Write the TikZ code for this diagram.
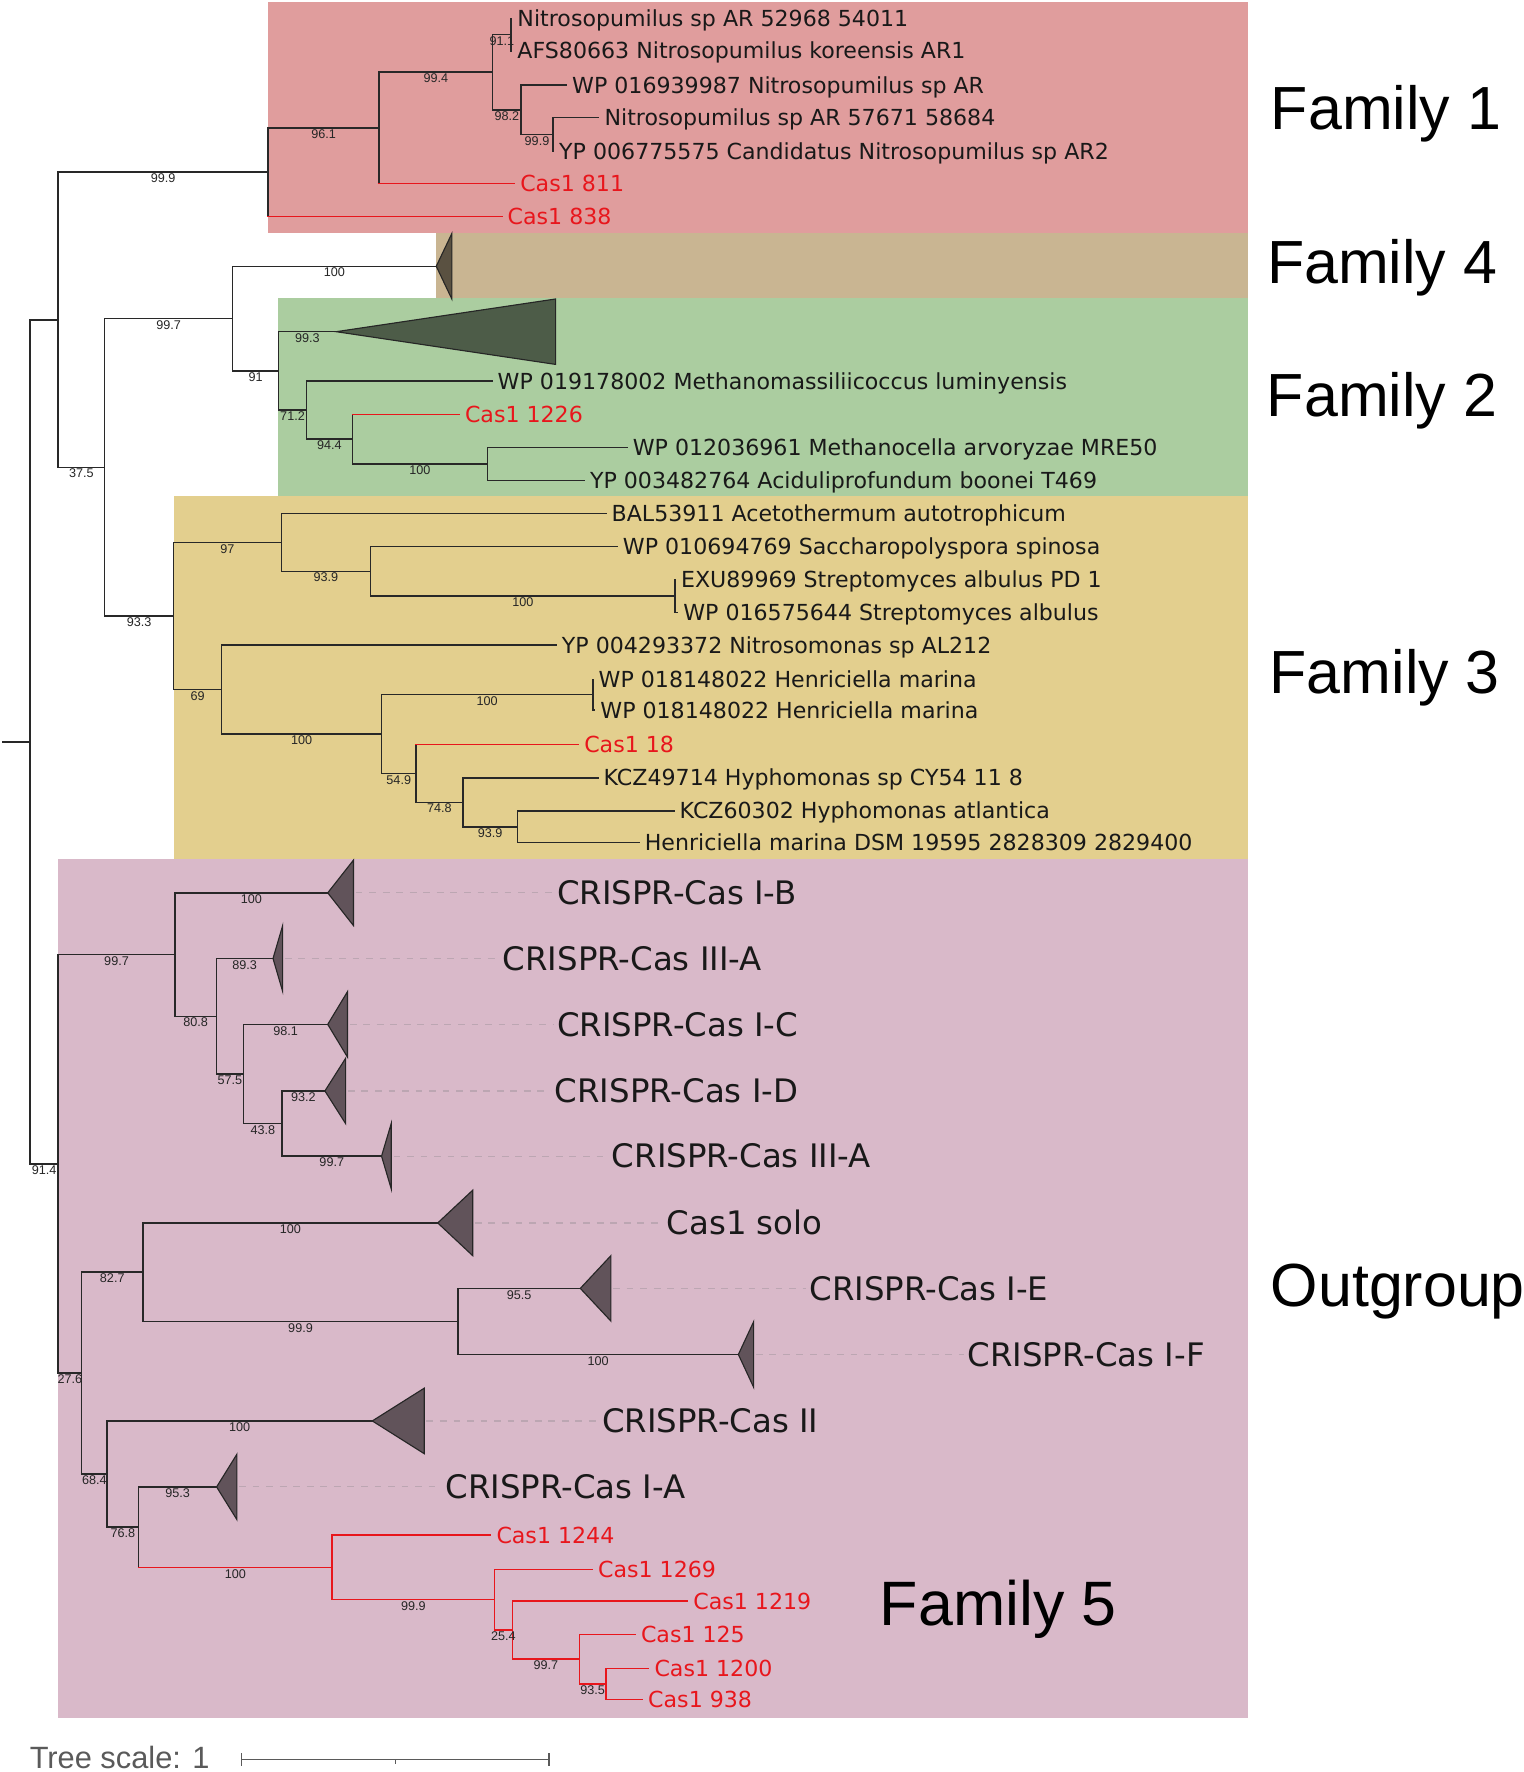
\documentclass[tikz,border=0pt]{standalone}
\usepackage{fontspec}
\setmainfont{DejaVu Sans}
\newfontfamily\libsans{Liberation Sans}
\definecolor{fonecol}{RGB}{224,157,157}
\definecolor{ffourcol}{RGB}{201,181,146}
\definecolor{ftwocol}{RGB}{171,205,160}
\definecolor{fthreecol}{RGB}{227,207,142}
\definecolor{ogcol}{RGB}{217,185,201}
\definecolor{casred}{RGB}{232,22,28}
\definecolor{treecol}{RGB}{40,40,40}
\definecolor{dashcol}{RGB}{188,166,178}
\definecolor{scalecol}{RGB}{90,90,90}
\tikzset{
  tree/.style={draw=treecol, line width=0.65pt, line cap=rect},
  redtree/.style={draw=casred, line width=0.65pt, line cap=rect},
  leaf/.style={font=\fontsize{9.8}{11}\selectfont, text=black!90, inner sep=0pt, anchor=base west, xshift=2.4pt, yshift=-3.55pt},
  redleaf/.style={leaf, text=casred},
  boot/.style={font=\libsans\fontsize{5.6}{6}\selectfont, inner sep=0pt, anchor=north, yshift=-0.6pt, text=black!85},
  clade/.style={font=\fontsize{14.35}{16}\selectfont, inner sep=0pt, anchor=base west, text=black!90, yshift=-5.2pt},
  fam/.style={font=\libsans\fontsize{27}{30}\selectfont, inner sep=0pt, anchor=base west, text=black},
  tri/.style={draw=black!85, line width=0.5pt, fill=black, fill opacity=0.55},
  dashl/.style={draw=dashcol, line width=0.5pt, dash pattern=on 3pt off 3pt},
}
\newcommand\hbr[3][tree]{\draw[#1] (#2 |- #3) -- (#3);}
\newcommand\vbr[4][tree]{\draw[#1] (#2 |- #3) -- (#2 |- #4);}
\newcommand\bsl[3]{\path (#1 |- #2) -- (#2) node[boot,pos=0.5] {#3};}
\begin{document}
\begin{tikzpicture}[x=0.5pt,y=-0.5pt]
\useasboundingbox (0,0) rectangle (1350,1570.7);
% background boxes
\fill[fonecol] (237.7,1.5) rectangle (1106,206.8);
\fill[ffourcol] (386.7,206.8) rectangle (1106,264.5);
\fill[ftwocol] (246,264.5) rectangle (1106,439.7);
\fill[fthreecol] (153.8,439.7) rectangle (1106,761.5);
\fill[ogcol] (51.6,761.5) rectangle (1106,1522.5);

% internal nodes
\coordinate (root0) at (2,657.6);
\coordinate (root) at (26.7,657.6);
\coordinate (H) at (51.6,283.5);
\coordinate (A) at (237.7,152.5);
\coordinate (B) at (336,113.25);
\coordinate (C) at (436.6,63.8);
\coordinate (D) at (453,30.65);
\coordinate (E) at (462,97.4);
\coordinate (F) at (490,119.4);
\coordinate (I) at (92.8,414.2);
\coordinate (G) at (206,282.4);
\coordinate (J) at (247,328.8);
\coordinate (K) at (271.6,363.5);
\coordinate (L) at (312.4,389.25);
\coordinate (M) at (431.9,411.2);
\coordinate (N) at (153.8,546.0);
\coordinate (O) at (249.3,480.75);
\coordinate (P) at (328.3,506.45);
\coordinate (Q) at (598.5,528.3);
\coordinate (R) at (196.4,611.3);
\coordinate (S) at (338.2,650.65);
\coordinate (T) at (525.5,615.8);
\coordinate (U) at (368.7,685.55);
\coordinate (V) at (410.4,711.1);
\coordinate (W) at (458.5,732.85);
\coordinate (Y) at (51.6,1031.7);
\coordinate (Z) at (155,846.1);
\coordinate (Z2) at (191.7,900.8);
\coordinate (Z3) at (216,951.95);
\coordinate (Z4) at (250,995.9);
\coordinate (Q1) at (72.2,1217.1);
\coordinate (Q2) at (126.8,1127.65);
\coordinate (Q3) at (406,1171.3);
\coordinate (Q4) at (95,1306.6);
\coordinate (Q5) at (122.9,1353.7);
\coordinate (R1) at (294.4,1389.4);
\coordinate (R2) at (438.3,1418);
\coordinate (R3) at (454.2,1445);
\coordinate (R4) at (513.5,1470.7);
\coordinate (R5) at (537.2,1492.75);

% leaf tips
\coordinate (L1) at (453.5,16.3);
\coordinate (L2) at (453.5,45);
\coordinate (L3) at (502,75.4);
\coordinate (L4) at (530.7,104.3);
\coordinate (L5) at (490.5,134.5);
\coordinate (L6) at (456,162.5);
\coordinate (L7) at (444.8,192);
\coordinate (L10) at (436,337.8);
\coordinate (L11) at (407,367.3);
\coordinate (L12) at (555.7,396.6);
\coordinate (L13) at (517.8,425.8);
\coordinate (L14) at (537,455);
\coordinate (L15) at (547,484.6);
\coordinate (L16) at (598.5,513.6);
\coordinate (L17) at (600.5,543);
\coordinate (L18) at (492.9,571.8);
\coordinate (L19) at (525.5,602.2);
\coordinate (L20) at (527,629.4);
\coordinate (L21) at (512.7,660);
\coordinate (L22) at (529.9,689.4);
\coordinate (L23) at (597.3,718.7);
\coordinate (L24) at (566.4,747);
\coordinate (c1244) at (434.9,1360.8);
\coordinate (c1269) at (525,1391);
\coordinate (c1219) at (609.4,1419.3);
\coordinate (c125) at (563,1448.6);
\coordinate (c1200) at (575,1479);
\coordinate (c938) at (569.4,1506.5);

% collapsed clades: apex and back-middle
\coordinate (tFfour) at (386.7,236);   \coordinate (bFfour) at (400.5,236);
\coordinate (tFtwo) at (298,294);      \coordinate (bFtwo) at (492.5,294);
\coordinate (tIB) at (290.5,791.4);    \coordinate (bIB) at (313.3,791.4);
\coordinate (tIIIAa) at (242,849.6);   \coordinate (bIIIAa) at (250.5,849.6);
\coordinate (tIC) at (290.5,908);      \coordinate (bIC) at (308,908);
\coordinate (tID) at (288,967);        \coordinate (bID) at (306.4,967);
\coordinate (tIIIAb) at (338.2,1024.8);\coordinate (bIIIAb) at (346.8,1024.8);
\coordinate (tsolo) at (388,1084);     \coordinate (bsolo) at (419,1084);
\coordinate (tIE) at (514.4,1142);     \coordinate (bIE) at (541.5,1142);
\coordinate (tIF) at (654.5,1200.6);   \coordinate (bIF) at (668,1200.6);
\coordinate (tII) at (330,1259.5);     \coordinate (bII) at (376,1259.5);
\coordinate (tIA) at (192,1318);       \coordinate (bIA) at (210,1318);

% triangles
\foreach \c in {Ffour,Ftwo,IB,IIIAa,IC,ID,IIIAb,solo,IE,IF,II,IA}{
  \draw[tri] (t\c) -- ([yshift=14.5pt]b\c) -- ([yshift=-14.5pt]b\c) -- cycle;
}

% vertical lines
\draw[tree] (root0) -- (root);
\vbr{root}{H}{Y}
\vbr{H}{A}{I}
\vbr{A}{B}{L7}
\vbr{B}{C}{L6}
\vbr{C}{D}{E}
\vbr{D}{L1}{L2}
\vbr{E}{L3}{F}
\vbr{F}{L4}{L5}
\vbr{I}{G}{N}
\vbr{G}{tFfour}{J}
\vbr{J}{tFtwo}{K}
\vbr{K}{L10}{L}
\vbr{L}{L11}{M}
\vbr{M}{L12}{L13}
\vbr{N}{O}{R}
\vbr{O}{L14}{P}
\vbr{P}{L15}{Q}
\vbr{Q}{L16}{L17}
\vbr{R}{L18}{S}
\vbr{S}{T}{U}
\vbr{T}{L19}{L20}
\vbr{U}{L21}{V}
\vbr{V}{L22}{W}
\vbr{W}{L23}{L24}
\vbr{Y}{Z}{Q1}
\vbr{Z}{tIB}{Z2}
\vbr{Z2}{tIIIAa}{Z3}
\vbr{Z3}{tIC}{Z4}
\vbr{Z4}{tID}{tIIIAb}
\vbr{Q1}{Q2}{Q4}
\vbr{Q2}{tsolo}{Q3}
\vbr{Q3}{tIE}{tIF}
\vbr{Q4}{tII}{Q5}
\vbr{Q5}{tIA}{R1}
\vbr[redtree]{R1}{c1244}{R2}
\vbr[redtree]{R2}{c1269}{R3}
\vbr[redtree]{R3}{c1219}{R4}
\vbr[redtree]{R4}{c125}{R5}
\vbr[redtree]{R5}{c1200}{c938}

% horizontal branches
\hbr{root}{H} \hbr{root}{Y}
\hbr{H}{A} \hbr{H}{I}
\hbr{A}{B} \hbr[redtree]{A}{L7}
\hbr{B}{C} \hbr[redtree]{B}{L6}
\hbr{C}{D} \hbr{C}{E}
\hbr{D}{L1} \hbr{D}{L2}
\hbr{E}{L3} \hbr{E}{F}
\hbr{F}{L4} \hbr{F}{L5}
\hbr{I}{G} \hbr{I}{N}
\hbr{G}{tFfour} \hbr{G}{J}
\hbr{J}{tFtwo} \hbr{J}{K}
\hbr{K}{L10} \hbr{K}{L}
\hbr[redtree]{L}{L11} \hbr{L}{M}
\hbr{M}{L12} \hbr{M}{L13}
\hbr{N}{O} \hbr{N}{R}
\hbr{O}{L14} \hbr{O}{P}
\hbr{P}{L15} \hbr{P}{Q}
\hbr{Q}{L16} \hbr{Q}{L17}
\hbr{R}{L18} \hbr{R}{S}
\hbr{S}{T} \hbr{S}{U}
\hbr{T}{L19} \hbr{T}{L20}
\hbr[redtree]{U}{L21} \hbr{U}{V}
\hbr{V}{L22} \hbr{V}{W}
\hbr{W}{L23} \hbr{W}{L24}
\hbr{Y}{Z} \hbr{Y}{Q1}
\hbr{Z}{tIB} \hbr{Z}{Z2}
\hbr{Z2}{tIIIAa} \hbr{Z2}{Z3}
\hbr{Z3}{tIC} \hbr{Z3}{Z4}
\hbr{Z4}{tID} \hbr{Z4}{tIIIAb}
\hbr{Q1}{Q2} \hbr{Q1}{Q4}
\hbr{Q2}{tsolo} \hbr{Q2}{Q3}
\hbr{Q3}{tIE} \hbr{Q3}{tIF}
\hbr{Q4}{tII} \hbr{Q4}{Q5}
\hbr{Q5}{tIA} \hbr[redtree]{Q5}{R1}
\hbr[redtree]{R1}{c1244} \hbr[redtree]{R1}{R2}
\hbr[redtree]{R2}{c1269} \hbr[redtree]{R2}{R3}
\hbr[redtree]{R3}{c1219} \hbr[redtree]{R3}{R4}
\hbr[redtree]{R4}{c125} \hbr[redtree]{R4}{R5}
\hbr[redtree]{R5}{c1200} \hbr[redtree]{R5}{c938}

% bootstrap values
\bsl{root}{Y}{91.4}
\bsl{H}{A}{99.9} \bsl{A}{B}{96.1} \bsl{B}{C}{99.4}
\bsl{C}{D}{91.1} \bsl{C}{E}{98.2} \bsl{E}{F}{99.9}
\bsl{H}{I}{37.5} \bsl{I}{G}{99.7} \bsl{G}{tFfour}{100}
\bsl{G}{J}{91} \bsl{J}{tFtwo}{99.3} \bsl{J}{K}{71.2}
\bsl{K}{L}{94.4} \bsl{L}{M}{100}
\bsl{I}{N}{93.3} \bsl{N}{O}{97} \bsl{O}{P}{93.9} \bsl{P}{Q}{100}
\bsl{N}{R}{69} \bsl{R}{S}{100} \bsl{S}{T}{100} \bsl{S}{U}{54.9}
\bsl{U}{V}{74.8} \bsl{V}{W}{93.9}
\bsl{Y}{Z}{99.7} \bsl{Z}{tIB}{100} \bsl{Z}{Z2}{80.8}
\bsl{Z2}{tIIIAa}{89.3} \bsl{Z2}{Z3}{57.5} \bsl{Z3}{tIC}{98.1}
\bsl{Z3}{Z4}{43.8} \bsl{Z4}{tID}{93.2} \bsl{Z4}{tIIIAb}{99.7}
\bsl{Y}{Q1}{27.6} \bsl{Q1}{Q2}{82.7} \bsl{Q2}{tsolo}{100}
\bsl{Q2}{Q3}{99.9} \bsl{Q3}{tIE}{95.5} \bsl{Q3}{tIF}{100}
\bsl{Q1}{Q4}{68.4} \bsl{Q4}{tII}{100} \bsl{Q4}{Q5}{76.8}
\bsl{Q5}{tIA}{95.3} \bsl{Q5}{R1}{100} \bsl{R1}{R2}{99.9}
\bsl{R2}{R3}{25.4} \bsl{R3}{R4}{99.7} \bsl{R4}{R5}{93.5}

% leaf labels
\node[leaf] (n1) at (L1) {Nitrosopumilus sp AR 52968 54011};
\node[leaf] (n2) at (L2) {AFS80663 Nitrosopumilus koreensis AR1};
\node[leaf] (n3) at (L3) {WP 016939987 Nitrosopumilus sp AR};
\node[leaf] (n4) at (L4) {Nitrosopumilus sp AR 57671 58684};
\node[leaf] (n5) at (L5) {YP 006775575 Candidatus Nitrosopumilus sp AR2};
\node[redleaf] (n6) at (L6) {Cas1 811};
\node[redleaf] (n7) at (L7) {Cas1 838};
\node[leaf] (n10) at (L10) {WP 019178002 Methanomassiliicoccus luminyensis};
\node[redleaf] (n11) at (L11) {Cas1 1226};
\node[leaf] (n12) at (L12) {WP 012036961 Methanocella arvoryzae MRE50};
\node[leaf] (n13) at (L13) {YP 003482764 Aciduliprofundum boonei T469};
\node[leaf] (n14) at (L14) {BAL53911 Acetothermum autotrophicum};
\node[leaf] (n15) at (L15) {WP 010694769 Saccharopolyspora spinosa};
\node[leaf] (n16) at (L16) {EXU89969 Streptomyces albulus PD 1};
\node[leaf] (n17) at (L17) {WP 016575644 Streptomyces albulus};
\node[leaf] (n18) at (L18) {YP 004293372 Nitrosomonas sp AL212};
\node[leaf] (n19) at (L19) {WP 018148022 Henriciella marina};
\node[leaf] (n20) at (L20) {WP 018148022 Henriciella marina};
\node[redleaf] (n21) at (L21) {Cas1 18};
\node[leaf] (n22) at (L22) {KCZ49714 Hyphomonas sp CY54 11 8};
\node[leaf] (n23) at (L23) {KCZ60302 Hyphomonas atlantica};
\node[leaf] (n24) at (L24) {Henriciella marina DSM 19595 2828309 2829400};
\node[redleaf] (m1244) at (c1244) {Cas1 1244};
\node[redleaf] (m1269) at (c1269) {Cas1 1269};
\node[redleaf] (m1219) at (c1219) {Cas1 1219};
\node[redleaf] (m125) at (c125) {Cas1 125};
\node[redleaf] (m1200) at (c1200) {Cas1 1200};
\node[redleaf] (m938) at (c938) {Cas1 938};

% collapsed clade labels
\node[clade] (lIB) at (493.4,791.4) {CRISPR-Cas I-B};
\node[clade] (lIIIAa) at (445.3,849.6) {CRISPR-Cas III-A};
\node[clade] (lIC) at (493.4,908) {CRISPR-Cas I-C};
\node[clade] (lID) at (491.4,967) {CRISPR-Cas I-D};
\node[clade] (lIIIAb) at (542,1024.8) {CRISPR-Cas III-A};
\node[clade] (lsolo) at (590.6,1084) {Cas1 solo};
\node[clade] (lIE) at (717.1,1142) {CRISPR-Cas I-E};
\node[clade] (lIF) at (857.4,1200.6) {CRISPR-Cas I-F};
\node[clade] (lII) at (533.4,1259.5) {CRISPR-Cas II};
\node[clade] (lIA) at (394.6,1318) {CRISPR-Cas I-A};
\foreach \c in {IB,IIIAa,IC,ID,IIIAb,solo,IE,IF,II,IA}{
  \draw[dashl] ([xshift=1pt]b\c) -- ([xshift=-1.5pt]b\c -| l\c.west);
}

% family labels
\node[fam] (famone) at (1126.2,114.7) {Family 1};
\node[fam] (famfour) at (1122.7,251.2) {Family 4};
\node[fam] (famtwo) at (1122.6,369.4) {Family 2};
\node[fam] (famthree) at (1125,614.7) {Family 3};
\node[fam] (outg) at (1126.1,1157.8) {Outgroup};
\node[fam, font=\libsans\fontsize{27.8}{30}\selectfont] (famfive) at (779.5,1441) {Family 5};

% tree scale
\node[font=\libsans\fontsize{13.65}{15}\selectfont, text=scalecol, anchor=base west, inner sep=0pt] (tscale) at (26,1568) {Tree scale: 1};
\coordinate (sba) at (214,1559.7);
\coordinate (sbm) at (350.6,1559.7);
\coordinate (sbb) at (486.9,1559.7);
\draw[scalecol, line width=0.75pt] (sba) -- (sbb);
\draw[scalecol, line width=0.75pt] ([yshift=2.8pt]sba) -- ([yshift=-2.8pt]sba);
\draw[scalecol, line width=0.75pt] ([yshift=2.8pt]sbb) -- ([yshift=-2.8pt]sbb);
\draw[scalecol, line width=0.75pt] (sbm) -- ([yshift=-2pt]sbm);
\end{tikzpicture}
\end{document}
